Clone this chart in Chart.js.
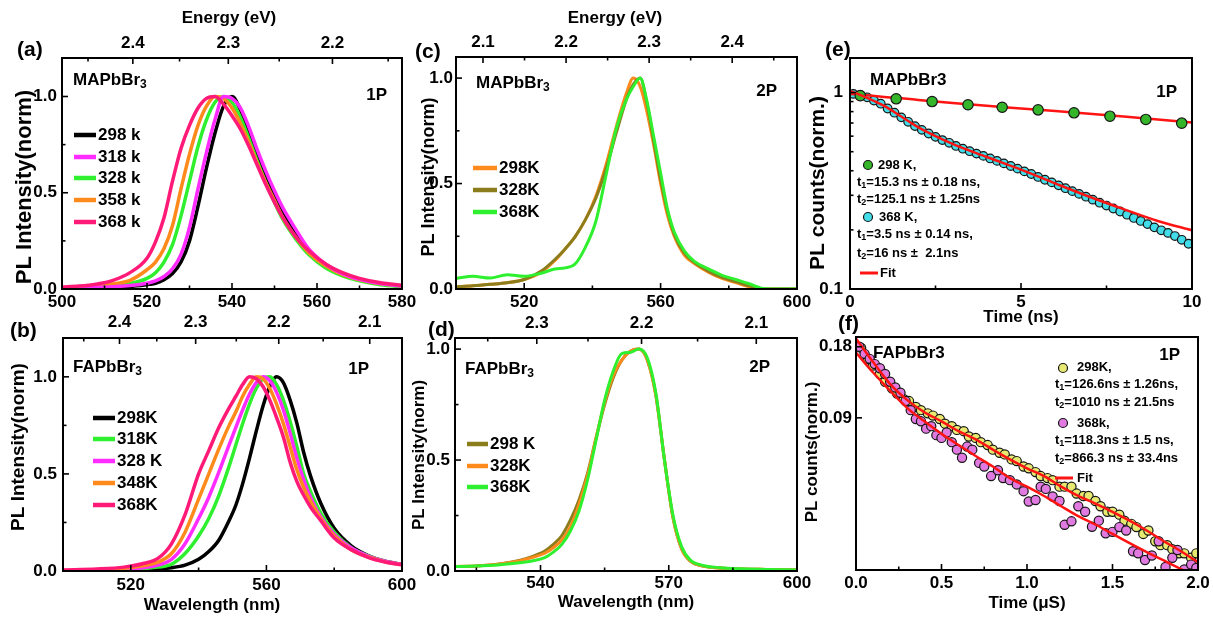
<!DOCTYPE html>
<html>
<head>
<meta charset="utf-8">
<script src="https://cdn.jsdelivr.net/npm/chart.js@4.4.1/dist/chart.umd.min.js"></script>
<style>
  html, body { margin: 0; padding: 0; background: #fff; }
  #fig { position: relative; width: 1213px; height: 618px; overflow: hidden; background: #fff; }
  #fig canvas { position: absolute; }
</style>
</head>
<body>
<div id="fig"></div>
<script>
// ---- (a) MAPbBr3, 1P spectra ----
const WL_A = [500,504,508,512,516,520,522,524,526,528,530,532,534,536,538,540,542,544,546,548,550,552,555,558,562,566,570,575,580];
const A_298 = [0.003,0.004,0.006,0.009,0.014,0.022,0.03,0.048,0.08,0.14,0.25,0.43,0.63,0.81,0.95,1.0,0.93,0.81,0.69,0.58,0.49,0.4,0.29,0.2,0.12,0.075,0.048,0.027,0.015];
const A_318 = [0.004,0.005,0.008,0.012,0.018,0.03,0.042,0.065,0.105,0.18,0.32,0.52,0.71,0.88,1.0,0.99,0.94,0.84,0.72,0.61,0.51,0.42,0.31,0.21,0.13,0.08,0.05,0.028,0.016];
const A_328 = [0.005,0.007,0.011,0.017,0.028,0.055,0.085,0.14,0.23,0.38,0.56,0.74,0.88,0.97,1.0,0.97,0.89,0.78,0.66,0.55,0.45,0.36,0.26,0.18,0.11,0.068,0.042,0.022,0.012];
const A_358 = [0.007,0.01,0.016,0.026,0.045,0.1,0.14,0.21,0.33,0.52,0.7,0.85,0.95,1.0,0.99,0.94,0.86,0.76,0.65,0.55,0.46,0.37,0.27,0.19,0.12,0.075,0.048,0.027,0.016];
const A_368 = [0.01,0.015,0.025,0.045,0.085,0.16,0.245,0.37,0.56,0.73,0.85,0.94,0.99,1.0,0.96,0.9,0.83,0.74,0.64,0.54,0.45,0.37,0.27,0.2,0.13,0.085,0.055,0.032,0.02];
const LEG_A = ['298 k', '318 k', '328 k', '358 k', '368 k'];

// ---- (b) FAPbBr3, 1P spectra ----
const WL_B = [500,510,518,524,528,532,536,540,543,546,549,551,553,555,557,559,561,563,565,567,569,571,573,576,580,585,590,595,600];
const B_298 = [0.0,0.002,0.004,0.007,0.011,0.017,0.03,0.06,0.1,0.16,0.26,0.34,0.45,0.58,0.72,0.85,0.95,1.0,0.97,0.88,0.76,0.61,0.49,0.35,0.22,0.13,0.08,0.05,0.034];
const B_318 = [0.001,0.003,0.007,0.013,0.02,0.035,0.09,0.18,0.27,0.39,0.54,0.65,0.76,0.86,0.94,0.99,1.0,0.96,0.88,0.77,0.64,0.5,0.41,0.3,0.2,0.12,0.078,0.05,0.034];
const B_328 = [0.002,0.005,0.01,0.018,0.03,0.06,0.14,0.27,0.38,0.51,0.65,0.74,0.83,0.91,0.97,1.0,0.98,0.92,0.83,0.71,0.58,0.47,0.38,0.28,0.19,0.12,0.077,0.05,0.034];
const B_348 = [0.003,0.007,0.014,0.028,0.045,0.09,0.2,0.37,0.5,0.63,0.75,0.82,0.9,0.96,1.0,0.99,0.94,0.86,0.76,0.64,0.52,0.43,0.36,0.27,0.18,0.11,0.072,0.047,0.032];
const B_368 = [0.005,0.01,0.02,0.04,0.065,0.14,0.29,0.5,0.62,0.74,0.84,0.9,0.96,1.0,0.99,0.95,0.88,0.79,0.69,0.56,0.46,0.39,0.33,0.26,0.17,0.11,0.07,0.046,0.032];
const LEG_B = ['298K', '318K', '328 K', '348K', '368K'];

// ---- (c) MAPbBr3, 2P spectra ----
const WL_C = [500,505,510,515,520,525,529,532,535,538,541,544,547,550,552,554,556,558,560,562,564,567,570,574,578,582,586,590,595,600];
const C_298 = [0.01,0.015,0.022,0.03,0.045,0.08,0.135,0.19,0.25,0.33,0.44,0.59,0.77,0.93,1.0,0.96,0.84,0.68,0.5,0.35,0.25,0.16,0.12,0.08,0.05,0.03,0.01,0.0,0.0,0.0];
const C_328 = [0.01,0.015,0.022,0.03,0.045,0.085,0.14,0.19,0.25,0.33,0.43,0.57,0.74,0.9,0.97,1.0,0.88,0.7,0.52,0.37,0.26,0.17,0.125,0.085,0.055,0.035,0.015,0.0,0.0,0.0];
const C_368 = [0.05,0.06,0.052,0.068,0.06,0.075,0.095,0.1,0.12,0.2,0.32,0.54,0.76,0.9,0.96,1.0,0.89,0.72,0.55,0.38,0.27,0.18,0.13,0.095,0.065,0.045,0.025,0.003,0.0,0.0];
const LEG_C = ['298K', '328K', '368K'];

// ---- (d) FAPbBr3, 2P spectra ----
const WL_D = [520,525,530,535,538,541,543,545,547,549,551,553,555,557,559,561,563,565,567,569,571,573,575,578,582,587,593,600];
const D_298 = [0.02,0.023,0.031,0.048,0.065,0.09,0.12,0.16,0.23,0.32,0.44,0.6,0.75,0.87,0.95,0.99,1.0,0.95,0.79,0.5,0.24,0.1,0.045,0.022,0.013,0.009,0.007,0.005];
const D_328 = [0.02,0.023,0.03,0.045,0.06,0.08,0.105,0.14,0.2,0.3,0.43,0.6,0.76,0.88,0.95,0.99,1.0,0.95,0.79,0.5,0.24,0.1,0.045,0.022,0.013,0.009,0.007,0.005];
const D_368 = [0.02,0.022,0.027,0.037,0.045,0.06,0.085,0.12,0.18,0.27,0.41,0.59,0.77,0.9,0.98,0.985,1.0,0.96,0.8,0.5,0.25,0.11,0.05,0.025,0.015,0.01,0.007,0.005];
const LEG_D = ['298 K', '328K', '368K'];

// ---- (e) MAPbBr3 decay (ns) ----
const E_T_298 = [0.3,1.35,2.4,3.45,4.45,5.5,6.55,7.6,8.65,9.7];
const E_V_298 = [0.965,0.93,0.9,0.867,0.842,0.817,0.789,0.758,0.73,0.699];
const E_T_368 = [0.1,0.3,0.5,0.7,0.9,1.1,1.3,1.5,1.7,1.9,2.1,2.3,2.5,2.7,2.9,3.1,3.3,3.5,3.7,3.9,4.1,4.3,4.5,4.7,4.9,5.1,5.3,5.5,5.7,5.9,6.1,6.3,6.5,6.7,6.9,7.1,7.3,7.5,7.7,7.9,8.1,8.3,8.5,8.7,8.9,9.1,9.3,9.5,9.7,9.9];
const E_V_368 = [0.985,0.972,0.946,0.911,0.878,0.83,0.79,0.748,0.71,0.675,0.646,0.619,0.595,0.573,0.555,0.535,0.518,0.503,0.489,0.476,0.462,0.449,0.436,0.423,0.41,0.397,0.385,0.372,0.36,0.349,0.337,0.326,0.315,0.305,0.295,0.285,0.275,0.266,0.257,0.248,0.239,0.23,0.222,0.214,0.206,0.199,0.193,0.186,0.178,0.17];
const E_FIT_T = [0,0.5,1,1.5,2,3,4,5,6,7,8,9,10];
const E_FIT_298 = [0.985,0.968,0.95,0.935,0.918,0.885,0.856,0.83,0.805,0.78,0.755,0.73,0.705];
const E_FIT_368 = [1.02,0.94,0.855,0.755,0.665,0.548,0.47,0.405,0.345,0.295,0.255,0.222,0.199];

// ---- (f) FAPbBr3 decay (us) ----
const F_T_298 = [0.03,0.07,0.1,0.14,0.17,0.21,0.24,0.28,0.31,0.35,0.38,0.42,0.45,0.49,0.52,0.56,0.59,0.63,0.66,0.7,0.73,0.77,0.8,0.84,0.87,0.91,0.94,0.98,1.01,1.05,1.08,1.12,1.15,1.19,1.22,1.26,1.29,1.33,1.36,1.4,1.43,1.47,1.5,1.54,1.57,1.61,1.64,1.68,1.71,1.75,1.78,1.82,1.85,1.89,1.92,1.96,1.99];
const F_V_298 = [0.178,0.16,0.15,0.138,0.128,0.12,0.114,0.108,0.106,0.1,0.097,0.094,0.092,0.089,0.085,0.083,0.08,0.079,0.075,0.074,0.071,0.069,0.066,0.064,0.063,0.06,0.059,0.056,0.055,0.053,0.051,0.05,0.049,0.046,0.046,0.046,0.043,0.042,0.042,0.04,0.038,0.036,0.036,0.035,0.033,0.032,0.031,0.029,0.03,0.027,0.026,0.026,0.025,0.024,0.024,0.023,0.024];
const F_T_368 = [0.02,0.05,0.08,0.11,0.14,0.17,0.2,0.23,0.26,0.29,0.32,0.35,0.38,0.41,0.44,0.47,0.5,0.53,0.56,0.59,0.62,0.65,0.68,0.72,0.75,0.79,0.83,0.86,0.9,0.94,0.98,1.01,1.05,1.08,1.11,1.15,1.19,1.22,1.26,1.3,1.34,1.38,1.42,1.46,1.5,1.54,1.58,1.62,1.65,1.69,1.73,1.77,1.81,1.85,1.88,1.92,1.96,1.99];
const F_V_368 = [0.18,0.168,0.16,0.152,0.146,0.138,0.128,0.121,0.115,0.106,0.097,0.089,0.087,0.081,0.083,0.076,0.074,0.078,0.071,0.066,0.061,0.068,0.066,0.058,0.056,0.051,0.054,0.05,0.049,0.047,0.044,0.0398,0.0404,0.046,0.045,0.0418,0.04,0.0317,0.0328,0.038,0.036,0.0311,0.033,0.0292,0.0296,0.031,0.03,0.0245,0.024,0.0225,0.0235,0.027,0.021,0.023,0.0248,0.0205,0.0215,0.0208];
const F_FIT_T = [0,0.1,0.2,0.3,0.4,0.5,0.6,0.7,0.8,0.9,1.0,1.1,1.2,1.3,1.4,1.5,1.6,1.7,1.8,1.9,2.0];
const F_FIT_298 = [0.195,0.155,0.125,0.107,0.095,0.087,0.079,0.073,0.066,0.06,0.055,0.051,0.046,0.042,0.039,0.036,0.033,0.03,0.027,0.0245,0.022];
const F_FIT_368 = [0.17,0.14,0.117,0.099,0.087,0.077,0.069,0.062,0.056,0.05,0.046,0.042,0.038,0.0345,0.0318,0.029,0.0265,0.0243,0.0224,0.0206,0.019];

// ---- tick values / labels ----
const EV_A = [2.4, 2.3, 2.2], EV_A_MINOR = [2.45, 2.35, 2.25, 2.15];
const EV_B = [2.4, 2.3, 2.2, 2.1], EV_B_MINOR = [2.45, 2.35, 2.25, 2.15];
const EV_C = [2.1, 2.2, 2.3, 2.4], EV_C_MINOR = [2.15, 2.25, 2.35, 2.45];
const EV_D = [2.3, 2.2, 2.1], EV_D_MINOR = [2.35, 2.25, 2.15];
const NORM_TICKS = [0, 0.5, 1.0], NORM_MINOR = [0.25, 0.75];
const LOG_E_TICKS = [0.1, 1], LOG_E_MINOR = [0.2, 0.3, 0.4, 0.5, 0.6, 0.7, 0.8, 0.9];
const LOG_F_TICKS = [0.09, 0.18];

const BLACK = '#000000', MAGENTA = '#ff2bff', GREEN = '#2ef02e', ORANGE = '#ff8a1c',
      PINK = '#ff1a78', OLIVE = '#8c7d1c', RED = '#ff1414',
      DOT_GREEN = '#35b52a', DOT_CYAN = '#42dde8', DOT_YELLOW = '#e6ea70', DOT_PURPLE = '#e07ae0';

// horizontal text uses a narrow face when one is installed
function hasFont(name) {
  const c = document.createElement('canvas').getContext('2d');
  c.font = 'bold 40px monospace';
  const w0 = c.measureText('Wavelength (nm) 0.5').width;
  c.font = `bold 40px "${name}", monospace`;
  return Math.abs(c.measureText('Wavelength (nm) 0.5').width - w0) > 1;
}
const NARROW = hasFont('Liberation Sans Narrow');
const FAMILY = NARROW ? '"Liberation Sans Narrow", "Liberation Sans", Arial, sans-serif' : '"Liberation Sans", Arial, sans-serif';
const WIDE = '"Liberation Sans", Arial, sans-serif';
const sz = px => NARROW ? Math.round(px / 0.82) : px;

const fig = document.getElementById('fig');
const pts = (xs, ys) => xs.map((x, i) => ({x, y: ys[i]}));
const toNm = ev => 1240 / ev;

function curve(xs, ys, color, width) {
  return {data: pts(xs, ys), borderColor: color, borderWidth: width, pointRadius: 0, fill: false,
    cubicInterpolationMode: 'monotone', xAxisID: 'x', yAxisID: 'y'};
}
function dots(xs, ys, color, r) {
  return {data: pts(xs, ys), showLine: false, pointRadius: r, pointBackgroundColor: color,
    pointBorderColor: '#151515', pointBorderWidth: 1.2, xAxisID: 'x', yAxisID: 'y'};
}

function drawText(ctx, it) {
  ctx.fillStyle = '#000';
  ctx.textBaseline = 'middle';
  if (it.vt) {
    ctx.save();
    ctx.translate(it.x, it.y);
    ctx.rotate(-Math.PI / 2);
    ctx.font = `bold ${it.size}px ${WIDE}`;
    ctx.textAlign = 'center';
    ctx.fillText(it.vt, 0, 0);
    ctx.restore();
    return;
  }
  const big = sz(it.size), small = Math.round(big * 0.7);
  let w = 0;
  for (const [s, sub] of it.parts) {
    ctx.font = `bold ${sub ? small : big}px ${FAMILY}`;
    w += ctx.measureText(s).width;
  }
  let x = it.align === 'right' ? it.x - w : it.align === 'center' ? it.x - w / 2 : it.x;
  ctx.textAlign = 'left';
  for (const [s, sub] of it.parts) {
    ctx.font = `bold ${sub ? small : big}px ${FAMILY}`;
    ctx.fillText(s, x, it.y + (sub ? big * 0.28 : 0));
    x += ctx.measureText(s).width;
  }
}

function build(spec) {
  const [bx, by, bw, bh] = spec.box;
  const [L, T, R, B] = spec.area;
  const cv = document.createElement('canvas');
  cv.width = bw; cv.height = bh;
  Object.assign(cv.style, {left: bx + 'px', top: by + 'px', width: bw + 'px', height: bh + 'px'});
  fig.appendChild(cv);

  const tickFont = {family: FAMILY, size: sz(17), weight: 'bold', lineHeight: 1.2};
  const lh = tickFont.size * 1.2;
  const base = {grid: {display: false, drawTicks: false}, border: {display: false}};
  const tb = {color: '#000', font: tickFont, autoSkip: false, maxRotation: 0, minRotation: 0};

  const scales = {
    x: {...base, type: 'linear', position: 'bottom', min: spec.x.min, max: spec.x.max,
      afterBuildTicks: s => { s.ticks = spec.x.major.map(v => ({value: v})); },
      afterFit: s => { s.height = by + bh - B; },
      ticks: {...tb, padding: spec.x.labelY - B - lh / 2, callback: spec.x.fmt}},
    y: {...base, type: spec.y.type, position: 'left', min: spec.y.min, max: spec.y.max,
      afterBuildTicks: s => { s.ticks = spec.y.major.map(v => ({value: v})); },
      afterFit: s => { s.width = L - bx; },
      ticks: {...tb, padding: L - spec.y.labelRight, callback: spec.y.fmt}}
  };
  if (spec.top) {
    scales.x2 = {...base, type: 'linear', position: 'top', min: spec.top.min, max: spec.top.max,
      afterBuildTicks: s => { s.ticks = spec.top.major.map(v => ({value: v})); },
      afterFit: s => { s.height = T - by; },
      ticks: {...tb, padding: T - spec.top.labelY - lh / 2, callback: (v, i) => spec.top.labels[i]}};
  }

  const deco = {
    id: 'deco',
    afterDraw(chart) {
      const ctx = chart.ctx, a = chart.chartArea;
      const sx = chart.scales.x, sy = chart.scales.y, st = chart.scales.x2;
      ctx.save();
      ctx.strokeStyle = '#000';
      ctx.lineWidth = 1.6;
      const mark = (x1, y1, x2, y2) => { ctx.beginPath(); ctx.moveTo(x1, y1); ctx.lineTo(x2, y2); ctx.stroke(); };
      spec.x.major.forEach(v => { const p = sx.getPixelForValue(v); mark(p, a.bottom, p, a.bottom - 6); });
      (spec.x.minor || []).forEach(v => { const p = sx.getPixelForValue(v); mark(p, a.bottom, p, a.bottom - 3.5); });
      spec.y.major.forEach(v => { const p = sy.getPixelForValue(v); mark(a.left, p, a.left + 6, p); });
      (spec.y.minor || []).forEach(v => { const p = sy.getPixelForValue(v); mark(a.left, p, a.left + 3.5, p); });
      if (st) {
        spec.top.major.forEach(v => { const p = st.getPixelForValue(v); mark(p, a.top, p, a.top + 6); });
        spec.top.minor.forEach(v => { const p = st.getPixelForValue(v); mark(p, a.top, p, a.top + 3.5); });
      }
      ctx.lineWidth = 2;
      ctx.strokeRect(a.left, a.top, a.right - a.left, a.bottom - a.top);

      ctx.translate(-bx, -by);
      (spec.keys || []).forEach(k => {
        ctx.strokeStyle = k.color;
        ctx.lineWidth = k.w;
        mark(k.x1, k.y, k.x2, k.y);
      });
      (spec.marks || []).forEach(m => {
        ctx.beginPath();
        ctx.arc(m.x, m.y, m.r, 0, Math.PI * 2);
        ctx.fillStyle = m.color;
        ctx.fill();
        ctx.lineWidth = 1.2;
        ctx.strokeStyle = '#151515';
        ctx.stroke();
      });
      spec.texts.forEach(t => drawText(ctx, t));
      ctx.restore();
    }
  };

  return new Chart(cv, {
    type: 'line',
    data: {datasets: spec.datasets},
    options: {
      responsive: false,
      animation: false,
      devicePixelRatio: 1,
      events: [],
      layout: {autoPadding: false, padding: {left: 0, bottom: 0, top: spec.top ? 0 : T - by, right: bx + bw - R}},
      plugins: {legend: {display: false}, tooltip: {enabled: false}},
      scales
    },
    plugins: [deco]
  });
}

// legend rows: coloured key line plus label
function legend(labels, colors, ys, x1, x2, tx) {
  return {
    keys: ys.map((y, i) => ({x1, x2, y, color: colors[i], w: 4.5})),
    texts: labels.map((s, i) => ({parts: [[s]], x: tx, y: ys[i], size: 17}))
  };
}

const sub = (a, b) => [[a], [b, 1]];
const intFmt = v => String(v);
const oneDp = v => v.toFixed(1);

// (a)
const legA = legend(LEG_A, [BLACK, MAGENTA, GREEN, ORANGE, PINK], [135, 157, 178, 200, 222], 74, 96, 98);
build({
  box: [0, 0, 420, 318], area: [62, 58, 402, 289],
  x: {min: 500, max: 580, major: [500, 520, 540, 560, 580], minor: [510, 530, 550, 570], labelY: 302, fmt: intFmt},
  top: {min: 500, max: 580, major: EV_A.map(toNm), minor: EV_A_MINOR.map(toNm), labels: EV_A.map(oneDp), labelY: 43},
  y: {type: 'linear', min: 0, max: 1.2, major: NORM_TICKS, minor: NORM_MINOR, labelRight: 57, fmt: oneDp},
  datasets: [
    curve(WL_A, A_368, PINK, 3.5), curve(WL_A, A_318, MAGENTA, 3.5), curve(WL_A, A_358, ORANGE, 3.5),
    curve(WL_A, A_328, GREEN, 3.5), curve(WL_A, A_298, BLACK, 3.5)
  ],
  keys: legA.keys,
  texts: [
    {parts: [['(a)']], x: 17, y: 50, size: 21},
    {parts: [['Energy (eV)']], x: 229, y: 18, size: 17, align: 'center'},
    {vt: 'PL Intensity(norm)', x: 25, y: 187, size: 22},
    {parts: sub('MAPbBr', '3'), x: 73, y: 80, size: 17},
    {parts: [['1P']], x: 387, y: 95, size: 17, align: 'right'},
    ...legA.texts
  ]
});

// (c)
const legC = legend(LEG_C, [ORANGE, OLIVE, GREEN], [168, 190, 212], 473, 497, 499);
build({
  box: [405, 0, 415, 318], area: [456, 57, 797, 289],
  x: {min: 500, max: 600, major: [520, 560, 600], minor: [500, 540, 580], labelY: 302, fmt: intFmt},
  top: {min: 2.0675, max: 2.478, major: EV_C, minor: EV_C_MINOR, labels: EV_C.map(oneDp), labelY: 42},
  y: {type: 'linear', min: 0, max: 1.1, major: NORM_TICKS, minor: NORM_MINOR, labelRight: 453, fmt: oneDp},
  datasets: [curve(WL_C, C_368, GREEN, 3), curve(WL_C, C_328, OLIVE, 3), curve(WL_C, C_298, ORANGE, 3)],
  keys: legC.keys,
  texts: [
    {parts: [['(c)']], x: 415, y: 52, size: 21},
    {parts: [['Energy (eV)']], x: 615, y: 18, size: 17, align: 'center'},
    {vt: 'PL Intensity(norm)', x: 429, y: 177, size: 18},
    {parts: sub('MAPbBr', '3'), x: 476, y: 83, size: 17},
    {parts: [['2P']], x: 777, y: 91, size: 17, align: 'right'},
    ...legC.texts
  ]
});

// (e)
build({
  box: [805, 0, 408, 330], area: [850, 58, 1192, 289],
  x: {min: 0, max: 10, major: [0, 5, 10], minor: [2.5, 7.5], labelY: 302, fmt: intFmt},
  y: {type: 'logarithmic', min: 0.1, max: 1.5, major: LOG_E_TICKS, minor: LOG_E_MINOR, labelRight: 843,
      fmt: v => (v >= 1 ? '1' : '0.1')},
  datasets: [
    curve(E_FIT_T, E_FIT_368, RED, 2.5), dots(E_T_298, E_V_298, DOT_GREEN, 5.2),
    curve(E_FIT_T, E_FIT_298, RED, 2.5), dots(E_T_368, E_V_368, DOT_CYAN, 4.3)
  ],
  keys: [{x1: 860, x2: 878, y: 273, color: RED, w: 3}],
  marks: [{x: 868, y: 165, r: 4.5, color: DOT_GREEN}, {x: 868, y: 217, r: 4.5, color: DOT_CYAN}],
  texts: [
    {parts: [['(e)']], x: 825, y: 50, size: 21},
    {parts: [['Time (ns)']], x: 1021, y: 317, size: 17, align: 'center'},
    {vt: 'PL counts(norm.)', x: 818, y: 183, size: 21},
    {parts: [['MAPbBr3']], x: 870, y: 80, size: 17},
    {parts: [['1P']], x: 1177, y: 92, size: 17, align: 'right'},
    {parts: [['298 K,']], x: 878, y: 165, size: 13},
    {parts: [['t'], ['1', 1], ['=15.3 ns \u00b1 0.18 ns,']], x: 857, y: 182, size: 13},
    {parts: [['t'], ['2', 1], ['=125.1 ns \u00b1 1.25ns']], x: 857, y: 199, size: 13},
    {parts: [['368 K,']], x: 879, y: 217, size: 13},
    {parts: [['t'], ['1', 1], ['=3.5 ns \u00b1 0.14 ns,']], x: 857, y: 234, size: 13},
    {parts: [['t'], ['2', 1], ['=16 ns \u00b1  2.1ns']], x: 857, y: 253, size: 13},
    {parts: [['Fit']], x: 880, y: 273, size: 13}
  ]
});

// (b)
const legB = legend(LEG_B, [BLACK, GREEN, MAGENTA, ORANGE, PINK], [418, 439, 461, 483, 505], 93, 115, 117);
build({
  box: [0, 305, 420, 313], area: [63, 338, 403, 571],
  x: {min: 500, max: 600, major: [520, 560, 600], minor: [540, 580], labelY: 585, fmt: intFmt},
  top: {min: 500, max: 600, major: EV_B.map(toNm), minor: EV_B_MINOR.map(toNm), labels: EV_B.map(oneDp), labelY: 322},
  y: {type: 'linear', min: 0, max: 1.2, major: NORM_TICKS, minor: NORM_MINOR, labelRight: 57, fmt: oneDp},
  datasets: [
    curve(WL_B, B_368, PINK, 3.5), curve(WL_B, B_348, ORANGE, 3.5), curve(WL_B, B_328, MAGENTA, 3.5),
    curve(WL_B, B_318, GREEN, 3.5), curve(WL_B, B_298, BLACK, 3.5)
  ],
  keys: legB.keys,
  texts: [
    {parts: [['(b)']], x: 10, y: 331, size: 21},
    {parts: [['Wavelength (nm)']], x: 212, y: 605, size: 17, align: 'center'},
    {vt: 'PL Intensity(norm)', x: 19, y: 447, size: 19},
    {parts: sub('FAPbBr', '3'), x: 73, y: 367, size: 17},
    {parts: [['1P']], x: 369, y: 369, size: 17, align: 'right'},
    ...legB.texts
  ]
});

// (d)
const legD = legend(LEG_D, [OLIVE, ORANGE, GREEN], [444, 466, 487], 467, 488, 490);
build({
  box: [405, 305, 415, 313], area: [455, 338, 797, 571],
  x: {min: 520, max: 600, major: [540, 570, 600], minor: [525, 555, 585], labelY: 583, fmt: intFmt},
  top: {min: 520, max: 600, major: EV_D.map(toNm), minor: EV_D_MINOR.map(toNm), labels: EV_D.map(oneDp), labelY: 323},
  y: {type: 'linear', min: 0, max: 1.05, major: NORM_TICKS, minor: NORM_MINOR, labelRight: 450, fmt: oneDp},
  datasets: [curve(WL_D, D_368, GREEN, 3), curve(WL_D, D_328, ORANGE, 3), curve(WL_D, D_298, OLIVE, 3)],
  keys: legD.keys,
  texts: [
    {parts: [['(d)']], x: 428, y: 330, size: 21},
    {parts: [['Wavelength (nm)']], x: 626, y: 602, size: 17, align: 'center'},
    {vt: 'PL Intensity(norm)', x: 419, y: 455, size: 17},
    {parts: sub('FAPbBr', '3'), x: 465, y: 369, size: 17},
    {parts: [['2P']], x: 770, y: 367, size: 17, align: 'right'},
    ...legD.texts
  ]
});

// (f)
build({
  box: [800, 315, 413, 303], area: [856, 337, 1198, 570],
  x: {min: 0, max: 2, major: [0, 0.5, 1, 1.5, 2], minor: [0.25, 0.75, 1.25, 1.75], labelY: 583, fmt: oneDp},
  y: {type: 'logarithmic', min: 0.0204, max: 0.198, major: LOG_F_TICKS, minor: [], labelRight: 852,
      fmt: v => (v > 0.1 ? '0.18' : '0.09')},
  datasets: [
    curve(F_FIT_T, F_FIT_298, RED, 2.5), curve(F_FIT_T, F_FIT_368, RED, 2.5),
    dots(F_T_368, F_V_368, DOT_PURPLE, 4.6), dots(F_T_298, F_V_298, DOT_YELLOW, 4.6)
  ],
  keys: [{x1: 1055, x2: 1073, y: 478, color: RED, w: 3}],
  marks: [{x: 1063, y: 368, r: 4.5, color: DOT_YELLOW}, {x: 1063, y: 423, r: 4.5, color: DOT_PURPLE}],
  texts: [
    {parts: [['(f)']], x: 838, y: 324, size: 21},
    {parts: [['Time (\u03bcS)']], x: 1027, y: 603, size: 17, align: 'center'},
    {vt: 'PL counts(norm.)', x: 812, y: 452, size: 17},
    {parts: [['FAPbBr3']], x: 873, y: 353, size: 17},
    {parts: [['1P']], x: 1180, y: 355, size: 17, align: 'right'},
    {parts: [['298K,']], x: 1077, y: 367, size: 13},
    {parts: [['t'], ['1', 1], ['=126.6ns \u00b1 1.26ns,']], x: 1055, y: 384, size: 13},
    {parts: [['t'], ['2', 1], ['=1010 ns \u00b1 21.5ns']], x: 1055, y: 402, size: 13},
    {parts: [['368k,']], x: 1077, y: 423, size: 13},
    {parts: [['t'], ['1', 1], ['=118.3ns \u00b1 1.5 ns,']], x: 1055, y: 440, size: 13},
    {parts: [['t'], ['2', 1], ['=866.3 ns \u00b1 33.4ns']], x: 1055, y: 458, size: 13},
    {parts: [['Fit']], x: 1077, y: 478, size: 13}
  ]
});
</script>
</body>
</html>
